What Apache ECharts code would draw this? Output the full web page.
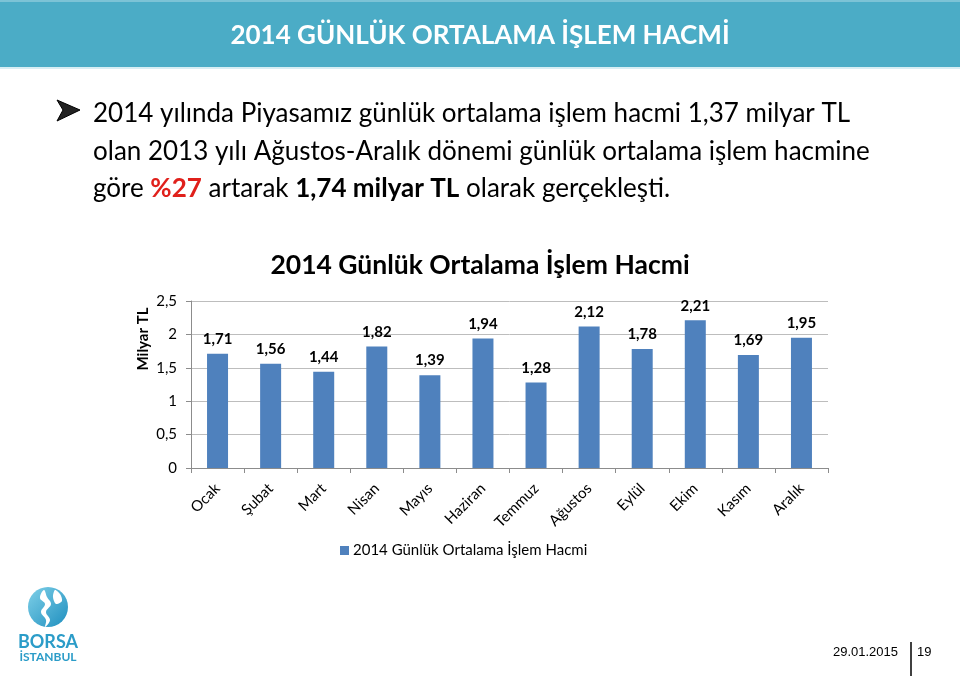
<!DOCTYPE html>
<html><head><meta charset="utf-8">
<script src="https://cdn.jsdelivr.net/npm/echarts@6/dist/echarts.min.js"></script>
<style>html,body{margin:0;padding:0;background:#fff;}#c{width:960px;height:677px;}</style>
</head><body><div id="c"></div>
<script>
const months = ['Ocak','Şubat','Mart','Nisan','Mayıs','Haziran','Temmuz','Ağustos','Eylül','Ekim','Kasım','Aralık'];
const volumes = [1.71,1.56,1.44,1.82,1.39,1.94,1.28,2.12,1.78,2.21,1.69,1.95];
const seriesName = '2014 Günlük Ortalama İşlem Hacmi';
const yTicks = {min:0, max:2.5, interval:0.5};
const headerTitle = '2014 GÜNLÜK ORTALAMA İŞLEM HACMİ';
const footerDate = '29.01.2015';
const pageNo = '19';

const F = 'Lato, "Open Sans", sans-serif';
const fmt = v => String(v).replace('.', ',');

const chart = echarts.init(document.getElementById('c'), null, {renderer:'canvas'});
chart.setOption({
  backgroundColor:'#fff',
  animation:false,
  title:{text:seriesName,left:'center',top:247,textStyle:{fontFamily:F,fontSize:26.5,fontWeight:'bold',color:'#000'}},
  grid:{left:191,right:132,top:301,bottom:209,containLabel:false},
  legend:{left:335,top:538,itemWidth:9,itemHeight:9,icon:'rect',itemGap:4,
    textStyle:{fontFamily:F,fontSize:15,color:'#000',padding:[0,0,0,-1]},data:[seriesName]},
  xAxis:{type:'category',data:months,
    axisLine:{lineStyle:{color:'#8c8c8c',width:1}},
    axisTick:{show:true,length:5,lineStyle:{color:'#8c8c8c'}},
    axisLabel:{rotate:45,fontFamily:F,fontSize:15,color:'#000',margin:18}},
  yAxis:{type:'value',min:yTicks.min,max:yTicks.max,interval:yTicks.interval,
    axisLine:{show:true,lineStyle:{color:'#8c8c8c',width:1}},
    axisTick:{show:true,length:5,lineStyle:{color:'#8c8c8c'}},
    splitLine:{lineStyle:{color:'#bdbdbd',width:1}},
    axisLabel:{fontFamily:F,fontSize:15,color:'#000',margin:14,formatter:v=>fmt(v)}},
  series:[{name:seriesName,type:'bar',data:volumes,barWidth:21,
    itemStyle:{color:'#4f81bd'},
    label:{show:true,position:'top',distance:7,fontFamily:F,fontSize:15,fontWeight:'bold',color:'#000',
      formatter:p=>fmt(p.value)}}],
  graphic:[
    {type:'rect',shape:{x:0,y:0,width:960,height:67},style:{fill:'#4bacc6'},z:1},
    {type:'rect',shape:{x:0,y:0,width:960,height:2},style:{fill:'#7cc3d6'},z:2},
    {type:'rect',shape:{x:0,y:67,width:960,height:2},style:{fill:'#d8eef4'},z:2},
    {type:'text',x:480,y:36,style:{text:headerTitle,fill:'#fff',font:'bold 26px '+F,textAlign:'center',textVerticalAlign:'middle'},z:3},
    {type:'polygon',shape:{points:[[57,100],[80,110],[57,121],[63,110]]},style:{fill:'#222',stroke:'#000',lineWidth:1},z:3},
    {type:'text',x:93,y:95,style:{
      text:'2014 yılında Piyasamız günlük ortalama işlem hacmi 1,37 milyar TL\nolan 2013 yılı Ağustos-Aralık dönemi günlük ortalama işlem hacmine\ngöre {r|%27} artarak {b|1,74 milyar TL} olarak gerçekleşti.',
      fill:'#000',font:'26px '+F,lineHeight:37.5,textAlign:'left',textVerticalAlign:'top',
      rich:{r:{fill:'#e0201b',font:'bold 26px '+F,lineHeight:37.5},b:{fill:'#000',font:'bold 26px '+F,lineHeight:37.5}}},z:3},
    {type:'text',x:143,y:339,rotation:Math.PI/2,style:{text:'Milyar TL',fill:'#000',font:'bold 15px '+F,textAlign:'center',textVerticalAlign:'middle'},z:3},
    // logo
    {type:'circle',shape:{cx:48,cy:607,r:20},style:{fill:new echarts.graphic.LinearGradient(0,0,1,1,[{offset:0,color:'#7fd0e8'},{offset:1,color:'#1f8fbf'}])},z:3},
    {type:'polygon',shape:{points:[[44,590],[40,598],[45,604],[41,612],[46,620],[45,627],[50,620],[46,612],[51,604],[47,597]],smooth:0.4},style:{fill:'#fff'},z:4},
    {type:'polygon',shape:{points:[[55,590],[53,597],[56,604],[62,601],[60,594]],smooth:0.3},style:{fill:'#fff'},z:4},
    {type:'text',x:48,y:642,style:{text:'BORSA',fill:'#2b9cc8',font:'bold 18px '+F,textAlign:'center',textVerticalAlign:'middle'},z:3},
    {type:'text',x:48,y:657,style:{text:'İSTANBUL',fill:'#2b9cc8',font:'bold 12px '+F,textAlign:'center',textVerticalAlign:'middle'},z:3},
    // footer
    {type:'text',x:898,y:652,style:{text:footerDate,fill:'#000',font:'13px "Liberation Sans", Arial',textAlign:'right',textVerticalAlign:'middle'},z:3},
    {type:'line',shape:{x1:911,y1:642,x2:911,y2:676},style:{stroke:'#000',lineWidth:1.5},z:3},
    {type:'text',x:917,y:652,style:{text:pageNo,fill:'#000',font:'13px "Liberation Sans", Arial',textAlign:'left',textVerticalAlign:'middle'},z:3}
  ]
});
</script></body></html>
